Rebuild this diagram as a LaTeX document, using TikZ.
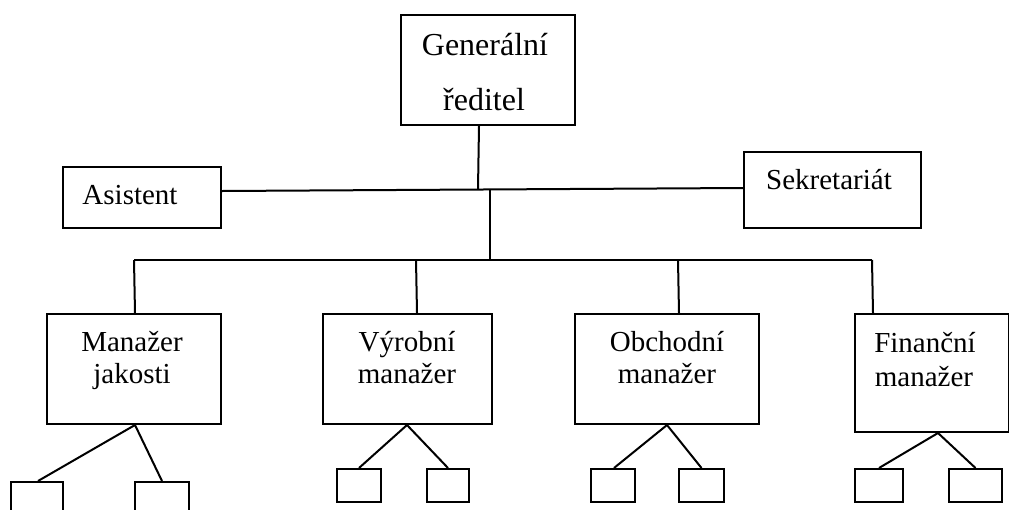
\documentclass[tikz,border=0pt]{standalone}
\usepackage{fontspec}
\setmainfont{Liberation Serif}
\begin{document}
\begin{tikzpicture}[x=1pt,y=-1pt,
  line width=2pt,
  box/.style={draw,rectangle,inner sep=0pt,anchor=north west},
  lbl/.style={inner sep=0pt,anchor=base,font=\fontsize{29}{35}\selectfont},
  biglbl/.style={inner sep=0pt,anchor=base,font=\fontsize{32}{38}\selectfont}]
\useasboundingbox (0,0) rectangle (1009,509);
\clip (0,0) rectangle (1009,509);

% top level
\node[box,minimum width=174pt,minimum height=110pt] (gr) at (400,14) {};
\node[biglbl] (grA) at (485,55) {Generální};
\node[biglbl] (grB) at (484,110) {ředitel};

% staff positions
\node[box,minimum width=158pt,minimum height=61pt] (as) at (62,166) {};
\node[lbl] (asT) at (130,204) {Asistent};
\node[box,minimum width=177pt,minimum height=76pt] (se) at (743,151) {};
\node[lbl] (seT) at (829,189) {Sekretariát};

% managers
\node[box,minimum width=174pt,minimum height=110pt] (mj) at (46,313) {};
\node[lbl] (mjA) at (132,351) {Manažer};
\node[lbl] (mjB) at (132,383) {jakosti};
\node[box,minimum width=169pt,minimum height=110pt] (vm) at (322,313) {};
\node[lbl] (vmA) at (407,351) {Výrobní};
\node[lbl] (vmB) at (407,383) {manažer};
\node[box,minimum width=184pt,minimum height=110pt] (om) at (574,313) {};
\node[lbl] (omA) at (667,351) {Obchodní};
\node[lbl] (omB) at (667,383) {manažer};
\node[box,minimum width=154pt,minimum height=118pt] (fm) at (854,313) {};
\node[lbl] (fmA) at (925,352) {Finanční};
\node[lbl] (fmB) at (924,386) {manažer};

% subordinate units
\node[box,minimum width=52pt,minimum height=40pt] (mj1) at (10,481) {};
\node[box,minimum width=54pt,minimum height=40pt] (mj2) at (134,481) {};
\node[box,minimum width=44pt,minimum height=33pt] (vm1) at (336,468) {};
\node[box,minimum width=42pt,minimum height=33pt] (vm2) at (426,468) {};
\node[box,minimum width=44pt,minimum height=33pt] (om1) at (590,468) {};
\node[box,minimum width=45pt,minimum height=33pt] (om2) at (678,468) {};
\node[box,minimum width=48pt,minimum height=33pt] (fm1) at (854,468) {};
\node[box,minimum width=53pt,minimum height=33pt] (fm2) at (948,468) {};

% junction points
\coordinate (j1) at (478,189);
\coordinate (j2) at (490,189);
\coordinate (b2) at (490,260);
\coordinate (bl) at (134,260);
\coordinate (br) at (872,260);

% staff line and trunk
\draw ([yshift=6.5pt]as.east) -- ([yshift=2pt]se.west);
\draw ([xshift=-9pt]gr.south) -- (j1);
\draw (j2) -- (b2);
\draw (bl) -- (br);

% drops to managers
\draw (bl) -- ([xshift=1pt]mj.north);
\draw (416,260) -- ([xshift=9.5pt]vm.north);
\draw (678,260) -- ([xshift=12pt]om.north);
\draw (br) -- ([xshift=-59pt]fm.north);

% branches to subordinate units
\draw ([xshift=1pt]mj1.north) -- ([xshift=1pt]mj.south) -- (mj2.north);
\draw (vm1.north) -- ([xshift=-0.5pt]vm.south) -- (vm2.north);
\draw ([xshift=1pt]om1.north) -- (om.south) -- (om2.north);
\draw (fm1.north) -- ([xshift=6pt]fm.south) -- (fm2.north);
\end{tikzpicture}
\end{document}
